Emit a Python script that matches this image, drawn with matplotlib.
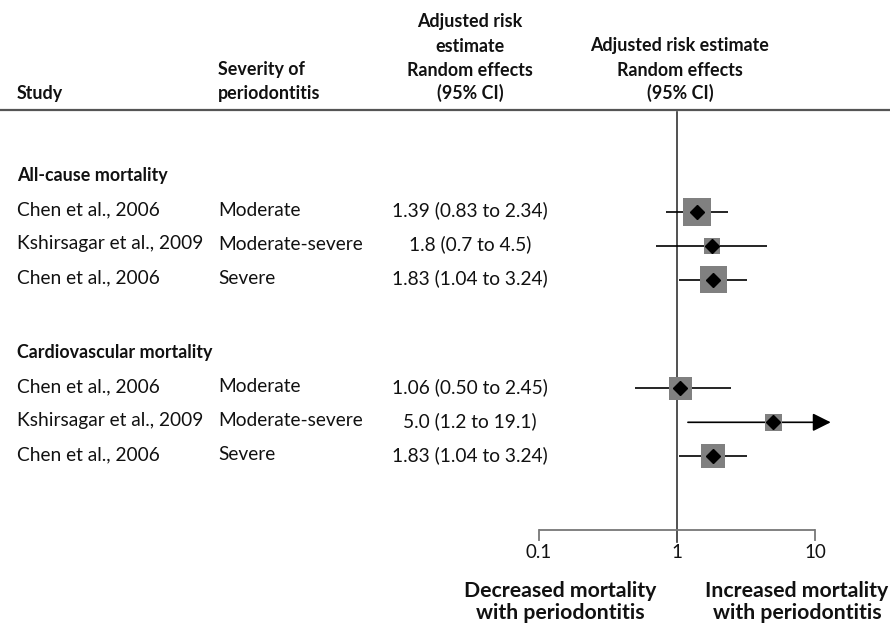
import matplotlib
matplotlib.use("Agg")
import matplotlib.pyplot as plt

plt.rcParams['font.family'] = ['Lato', 'DejaVu Sans']

# ---- data -------------------------------------------------------------
groups = ["All-cause mortality", "Cardiovascular mortality"]
studies = ["Chen et al., 2006", "Kshirsagar et al., 2009", "Chen et al., 2006",
           "Chen et al., 2006", "Kshirsagar et al., 2009", "Chen et al., 2006"]
severity = ["Moderate", "Moderate-severe", "Severe",
            "Moderate", "Moderate-severe", "Severe"]
group_of = [0, 0, 0, 1, 1, 1]
estimate = [1.39, 1.8, 1.83, 1.06, 5.0, 1.83]
ci_low = [0.83, 0.7, 1.04, 0.50, 1.2, 1.04]
ci_high = [2.34, 4.5, 3.24, 2.45, 19.1, 3.24]
est_text = ["1.39 (0.83 to 2.34)", "1.8 (0.7 to 4.5)", "1.83 (1.04 to 3.24)",
            "1.06 (0.50 to 2.45)", "5.0 (1.2 to 19.1)", "1.83 (1.04 to 3.24)"]
weights = [28, 16, 27, 23, 17, 24]   # relative study weights (box size)
x_ticks = [0.1, 1, 10]
x_tick_labels = ["0.1", "1", "10"]

# ---- layout -----------------------------------------------------------
W, H = 890, 631
fig = plt.figure(figsize=(W / 100, H / 100), dpi=100)

ax_t = fig.add_axes([0, 0, 1, 1])
ax_t.set_xlim(0, W)
ax_t.set_ylim(H, 0)
ax_t.axis("off")

x_lo_px, x_hi_px = 539, 815
ax_f = fig.add_axes([x_lo_px / W, 0, (x_hi_px - x_lo_px) / W, 1])
ax_f.set_xscale("log")
ax_f.set_xlim(x_ticks[0], x_ticks[-1])
ax_f.set_ylim(H, 0)
ax_f.axis("off")

row_h = 34
first_head_y = 176
group_gap = 1.2 * row_h
head_y = [first_head_y + g * (4 * row_h + group_gap) for g in range(len(groups))]
row_y = []
counters = [0] * len(groups)
for g in group_of:
    counters[g] += 1
    row_y.append(head_y[g] + counters[g] * row_h)

txt = "#111111"
fs_row = 13.8
fs_head = 12.9

# header
hdr_y = [22, 46, 70, 93]
ax_t.text(17, hdr_y[3], "Study", fontsize=fs_head, fontweight="bold",
          color=txt, va="center", ha="left")
for line, y in zip(["Severity of", "periodontitis"], hdr_y[2:]):
    ax_t.text(218, y, line, fontsize=fs_head, fontweight="bold",
              color=txt, va="center", ha="left")
for line, y in zip(["Adjusted risk", "estimate", "Random effects", "(95% CI)"], hdr_y):
    ax_t.text(470, y, line, fontsize=fs_head, fontweight="bold",
              color=txt, va="center", ha="center")
for line, y in zip(["Adjusted risk estimate", "Random effects", "(95% CI)"], hdr_y[1:]):
    ax_t.text(680, y, line, fontsize=fs_head, fontweight="bold",
              color=txt, va="center", ha="center")
ax_t.plot([0, W], [110, 110], color="#555555", lw=1.6, solid_capstyle="butt")

# group headings and rows
for g, name in enumerate(groups):
    ax_t.text(17, head_y[g], name, fontsize=fs_head, fontweight="bold",
              color=txt, va="center", ha="left")
for i in range(len(studies)):
    y = row_y[i]
    ax_t.text(17, y, studies[i], fontsize=fs_row, color=txt, va="center", ha="left")
    ax_t.text(218, y, severity[i], fontsize=fs_row, color=txt, va="center", ha="left")
    ax_t.text(470, y, est_text[i], fontsize=fs_row, color=txt, va="center", ha="center")

# reference line at 1 and bottom axis bracket
axis_y = 530
ax_f.plot([1, 1], [112, axis_y + 12], color="#333333", lw=1.2, clip_on=False)
ax_f.plot([x_ticks[0], x_ticks[-1]], [axis_y, axis_y], color="#777777", lw=1.3,
          clip_on=False, solid_capstyle="butt")
for xt in (x_ticks[0], x_ticks[-1]):
    ax_f.plot([xt, xt], [axis_y, axis_y + 10], color="#777777", lw=1.3, clip_on=False)
for xt, lab in zip(x_ticks, x_tick_labels):
    ax_f.text(xt, axis_y + 23, lab, fontsize=13.5, color=txt, ha="center", va="center")

# CIs, weight boxes and point estimates
arrow_cap = 13.0
for i in range(len(studies)):
    y = row_y[i] + 1.5
    if ci_high[i] > x_ticks[-1]:
        ax_f.annotate("", xy=(arrow_cap, y), xytext=(ci_low[i], y),
                      arrowprops=dict(arrowstyle="-|>,head_length=1.1,head_width=0.55",
                                      mutation_scale=10, lw=1.2, color="black",
                                      shrinkA=0, shrinkB=0),
                      annotation_clip=False)
    else:
        ax_f.plot([ci_low[i], ci_high[i]], [y, y], color="black", lw=1.2,
                  clip_on=False, solid_capstyle="butt")
    side_pt = weights[i] * 0.72
    ax_f.scatter([estimate[i]], [y], marker="s", s=side_pt ** 2, color="#808080",
                 edgecolors="none", zorder=3, clip_on=False)
    ax_f.plot([estimate[i]], [y], marker="D", ms=7.5, color="black", zorder=4,
              clip_on=False)

# direction labels
fs_dir = 15.3
dir_y = [591, 613]
for line, y in zip(["Decreased mortality", "with periodontitis"], dir_y):
    ax_t.text(560, y, line, fontsize=fs_dir, fontweight="bold", color=txt,
              ha="center", va="center")
for line, y in zip(["Increased mortality", "with periodontitis"], dir_y):
    ax_t.text(797, y, line, fontsize=fs_dir, fontweight="bold", color=txt,
              ha="center", va="center")

fig.savefig("out.png", dpi=100, facecolor="white")
